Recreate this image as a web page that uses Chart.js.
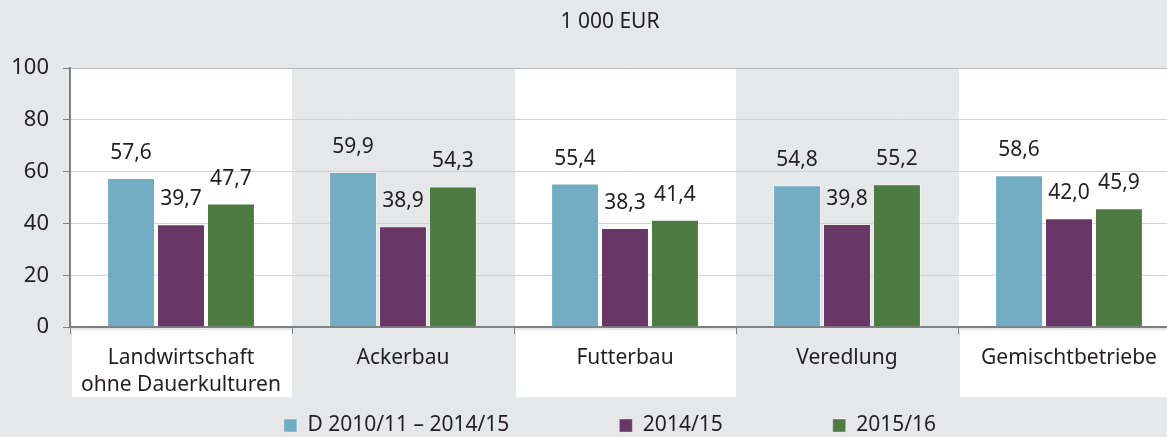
<!DOCTYPE html>
<html>
<head>
<meta charset="utf-8">
<script src="https://cdn.jsdelivr.net/npm/chart.js@4/dist/chart.umd.min.js"></script>
<style>
  html, body { margin: 0; padding: 0; background: #e6e7e9; overflow: hidden; }
  #wrap { width: 1180px; height: 437px; }
</style>
</head>
<body>
<div id="wrap"><canvas id="chart"></canvas></div>
<script>
const categories = [
  ['Landwirtschaft', 'ohne Dauerkulturen'],
  'Ackerbau',
  'Futterbau',
  'Veredlung',
  'Gemischtbetriebe'
];
const seriesNames = ['D 2010/11 – 2014/15', '2014/15', '2015/16'];
const avg1015 = [57.6, 59.9, 55.4, 54.8, 58.6];
const val1415 = [39.7, 38.9, 38.3, 39.8, 42.0];
const val1516 = [47.7, 54.3, 41.4, 55.2, 45.9];
const yTicks = [0, 20, 40, 60, 80, 100];
const colors = ['#73adc4', '#683667', '#4d7b42'];

const textColor = '#231f20';
const fontFamily = '"Noto Sans", "Open Sans", sans-serif';
const legendGap = 110;

// white / grey columns behind the bars and under the category labels
const columnBands = {
  id: 'columnBands',
  beforeDraw(chart) {
    const { ctx, chartArea, scales } = chart;
    const x = scales.x;
    const w = x.width / categories.length;
    ctx.save();
    ctx.fillStyle = '#ffffff';
    categories.forEach((c, i) => {
      if (i % 2 !== 0) return;
      const left = x.getPixelForValue(i) - w / 2;
      ctx.fillRect(left + 1, chartArea.top, w - 1, chartArea.bottom - chartArea.top);
      ctx.fillRect(left + 2, chartArea.bottom + 3, w - 2, 67);
    });
    ctx.restore();
  }
};

// value labels above the bars, German decimal comma
const valueLabels = {
  id: 'valueLabels',
  afterDatasetsDraw(chart) {
    const { ctx } = chart;
    ctx.save();
    ctx.font = '21px ' + fontFamily;
    ctx.fillStyle = textColor;
    ctx.textAlign = 'center';
    ctx.textBaseline = 'middle';
    chart.data.datasets.forEach((ds, di) => {
      chart.getDatasetMeta(di).data.forEach((bar, i) => {
        const txt = ds.data[i].toFixed(1).replace('.', ',');
        ctx.fillText(txt, bar.x, bar.y - 25);
      });
    });
    ctx.restore();
  }
};

// legend: wide horizontal gaps without a tall box; title and legend nudged right
const placeBoxes = {
  id: 'placeBoxes',
  beforeLayout(chart) {
    const lg = chart.legend;
    if (lg && !lg._fitWrapped) {
      const fit = lg.fit.bind(lg);
      lg.fit = function () { fit(); this.height = 40; };
      lg._fitWrapped = true;
    }
  },
  afterLayout(chart) {
    [chart.titleBlock, chart.legend].forEach(b => {
      if (!b) return;
      b.left += 20;
      b.right += 20;
    });
    const lg = chart.legend;
    if (lg) {
      lg.top = 426 - legendGap - 11;
      lg.bottom = chart.height;
    }
  }
};

new Chart('chart', {
  type: 'bar',
  data: {
    labels: categories,
    datasets: seriesNames.map((name, i) => ({
      label: name,
      data: [avg1015, val1415, val1516][i],
      backgroundColor: colors[i],
      borderColor: 'rgba(255,255,255,0.35)',
      borderWidth: 1,
      barPercentage: 0.96,
      categoryPercentage: 0.675
    }))
  },
  options: {
    responsive: true,
    maintainAspectRatio: false,
    animation: false,
    plugins: {
      title: {
        display: true,
        text: '1 000 EUR',
        color: textColor,
        font: { family: fontFamily, size: 21, weight: 'normal' },
        padding: { top: 9, bottom: 34 }
      },
      legend: {
        position: 'bottom',
        labels: {
          color: textColor,
          font: { family: fontFamily, size: 21 },
          boxWidth: 13,
          boxHeight: 13,
          padding: legendGap
        }
      },
      tooltip: { enabled: false }
    },
    scales: {
      x: {
        afterFit(scale) { scale.height = 70; },
        grid: {
          offset: true,
          drawOnChartArea: false,
          drawTicks: true,
          tickLength: 7,
          tickColor: '#808080'
        },
        border: { color: '#808080', width: 2 },
        ticks: {
          color: textColor,
          font: { family: fontFamily, size: 21, lineHeight: 1.3 },
          padding: 10,
          maxRotation: 0,
          autoSkip: false
        }
      },
      y: {
        min: 0,
        max: 100,
        afterFit(scale) { scale.width = 70; },
        afterBuildTicks(scale) { scale.ticks = yTicks.map(v => ({ value: v })); },
        grid: {
          color: ctx => ctx.tick && ctx.tick.value === 100 ? '#b8b8b8' : '#d2d2d2',
          tickColor: '#808080',
          tickLength: 7
        },
        border: { color: '#808080', width: 2 },
        ticks: {
          color: textColor,
          font: { family: fontFamily, size: 22 },
          padding: 14
        }
      }
    }
  },
  plugins: [columnBands, valueLabels, placeBoxes]
});
</script>
</body>
</html>
